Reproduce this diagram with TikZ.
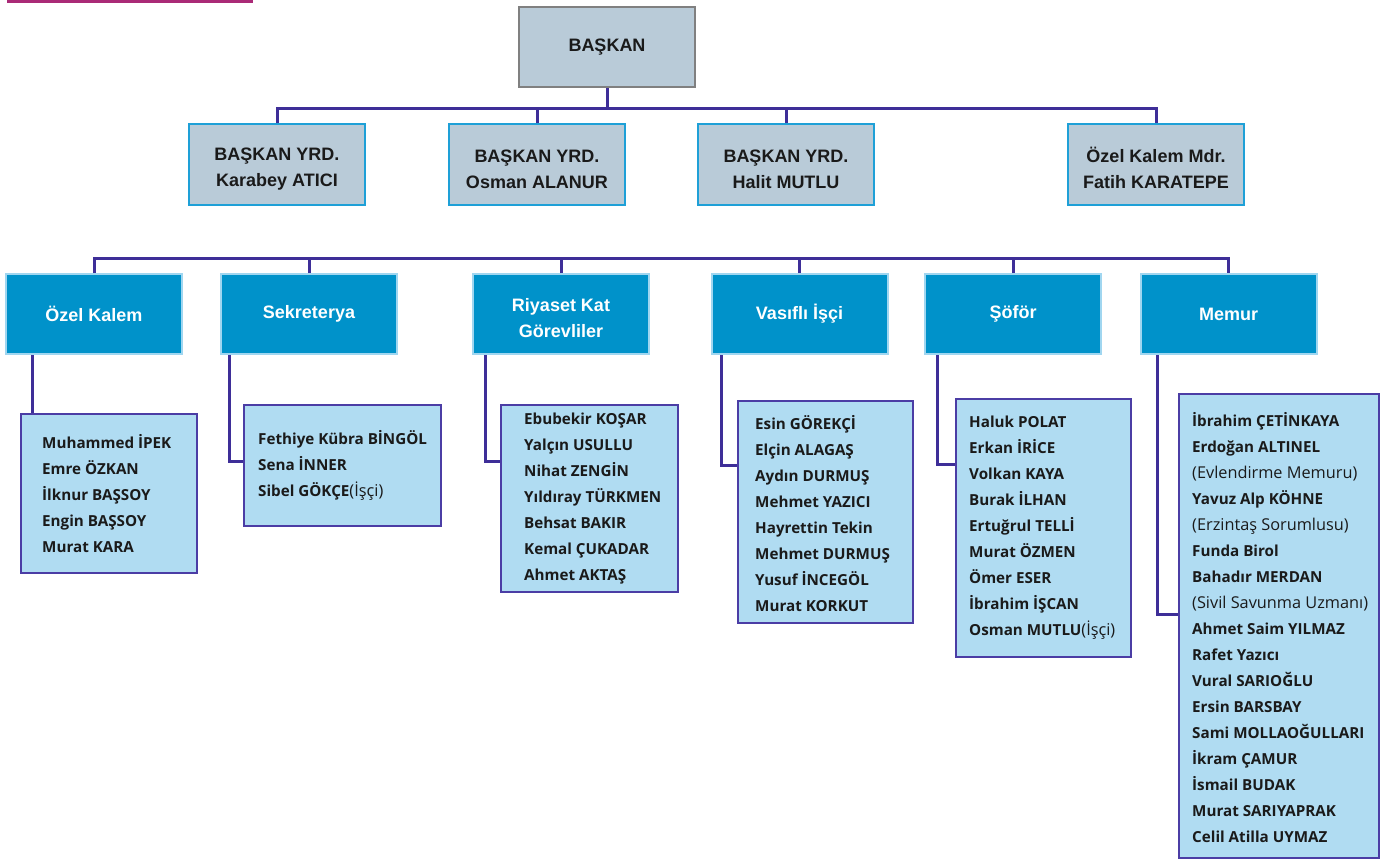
\documentclass[tikz,border=0pt]{standalone}
\usepackage{fontspec}
\usepackage{xcolor}
\usepackage{tikz}
\usetikzlibrary{positioning}
\setmainfont{Liberation Sans}
\newfontfamily\namefont{Open Sans}
\newcommand\aciklama[1]{{\mdseries\fontsize{16.3}{26}\selectfont #1}}
\definecolor{baskanfill}{RGB}{185,203,216}
\definecolor{baskanborder}{RGB}{128,128,128}
\definecolor{yrdborder}{RGB}{30,160,215}
\definecolor{birimfill}{RGB}{0,146,202}
\definecolor{birimborder}{RGB}{160,214,240}
\definecolor{listefill}{RGB}{176,220,242}
\definecolor{listeborder}{RGB}{75,61,165}
\definecolor{hatcolor}{RGB}{62,46,152}
\definecolor{bandcolor}{RGB}{170,42,119}
\definecolor{yazi}{RGB}{26,26,26}

\begin{document}
\begin{tikzpicture}[x=1pt, y=-1pt]
% Define styles
\tikzstyle{baskan} = [rectangle, minimum width=176pt, minimum height=80pt, align=center, draw=baskanborder, line width=2pt, fill=baskanfill, text=yazi, font=\fontsize{18}{26}\selectfont\bfseries]
\tikzstyle{yardimci} = [rectangle, minimum width=176pt, minimum height=81pt, align=center, text height=48pt, draw=yrdborder, line width=2pt, fill=baskanfill, text=yazi, font=\fontsize{18}{26}\selectfont\bfseries]
\tikzstyle{birim} = [rectangle, minimum width=176pt, minimum height=80pt, align=center, draw=birimborder, line width=2pt, fill=birimfill, text=white, font=\fontsize{18}{26}\selectfont\bfseries]
\tikzstyle{liste} = [rectangle, anchor=north west, draw=listeborder, line width=2pt, fill=listefill]
\tikzstyle{isimler} = [anchor=west, align=left, inner sep=0pt, text=yazi, font=\namefont\fontsize{15.2}{26}\selectfont\bfseries]
\tikzstyle{hat} = [draw=hatcolor, line width=3pt]

\useasboundingbox (0,0) rectangle (1386,859);
\fill [bandcolor] (7,0) rectangle (253,3);

% Place nodes
\node [baskan] (baskan) at (607,47) {BAŞKAN};
\node [yardimci] (yrd1) at (277,164.5) {BAŞKAN YRD.\\Karabey ATICI};
\node [yardimci] (yrd2) at (537,164.5) {BAŞKAN YRD.\\Osman ALANUR};
\node [yardimci] (yrd3) at (786,164.5) {BAŞKAN YRD.\\Halit MUTLU};
\node [yardimci] (yrd4) at (1156,164.5) {Özel Kalem Mdr.\\Fatih KARATEPE};

\node [birim] (ozel) at (94,314) {Özel Kalem};
\node [birim] (sekr) at (309,314) {Sekreterya};
\node [birim, text height=48pt] (riyaset) at (561,314) {Riyaset Kat\\Görevliler};
\node [birim] (vasifli) at (799.5,314) {Vasıflı İşçi};
\node [birim] (sofor) at (1013,314) {Şöför};
\node [birim] (memur) at (1228.5,314) {Memur};

\node [liste, minimum width=176pt, minimum height=159pt] (ozelL) at (20,413) {};
\node [liste, minimum width=197pt, minimum height=121pt] (sekrL) at (243,404) {};
\node [liste, minimum width=177pt, minimum height=187pt] (riyasetL) at (500,404) {};
\node [liste, minimum width=175pt, minimum height=222pt] (vasifliL) at (737,400) {};
\node [liste, minimum width=175pt, minimum height=258pt] (soforL) at (955,398) {};
\node [liste, minimum width=200pt, minimum height=464pt] (memurL) at (1178,393) {};

\node [isimler] (ozelT) at ([xshift=22pt]ozelL.west) {Muhammed İPEK\\Emre ÖZKAN\\İlknur BAŞSOY\\Engin BAŞSOY\\Murat KARA};
\node [isimler] (sekrT) at ([xshift=15pt]sekrL.west) {Fethiye Kübra BİNGÖL\\Sena İNNER\\Sibel GÖKÇE\aciklama{(İşçi)}};
\node [isimler] (riyasetT) at ([xshift=24pt]riyasetL.west) {Ebubekir KOŞAR\\Yalçın USULLU\\Nihat ZENGİN\\Yıldıray TÜRKMEN\\Behsat BAKIR\\Kemal ÇUKADAR\\Ahmet AKTAŞ};
\node [isimler] (vasifliT) at ([xshift=18pt, yshift=-2pt]vasifliL.west) {Esin GÖREKÇİ\\Elçin ALAGAŞ\\Aydın DURMUŞ\\Mehmet YAZICI\\Hayrettin Tekin\\Mehmet DURMUŞ\\Yusuf İNCEGÖL\\Murat KORKUT};
\node [isimler] (soforT) at ([xshift=14pt]soforL.west) {Haluk POLAT\\Erkan İRİCE\\Volkan KAYA\\Burak İLHAN\\Ertuğrul TELLİ\\Murat ÖZMEN\\Ömer ESER\\İbrahim İŞCAN\\Osman MUTLU\aciklama{(İşçi)}};
\node [isimler] (memurT) at ([xshift=14pt, yshift=-2pt]memurL.west) {İbrahim ÇETİNKAYA\\Erdoğan ALTINEL\\\aciklama{(Evlendirme Memuru)}\\Yavuz Alp KÖHNE\\\aciklama{(Erzintaş Sorumlusu)}\\Funda Birol\\Bahadır MERDAN\\\aciklama{(Sivil Savunma Uzmanı)}\\Ahmet Saim YILMAZ\\Rafet Yazıcı\\Vural SARIOĞLU\\Ersin BARSBAY\\Sami MOLLAOĞULLARI\\İkram ÇAMUR\\İsmail BUDAK\\Murat SARIYAPRAK\\Celil Atilla UYMAZ};

% Bus coordinates
\coordinate (ustHat) at (0,108);
\coordinate (altHat) at (0,258);
\coordinate (ozelC) at ([xshift=27pt]ozel.south west);
\coordinate (sekrC) at ([xshift=9pt]sekr.south west);
\coordinate (riyasetC) at ([xshift=13pt]riyaset.south west);
\coordinate (vasifliC) at ([xshift=11pt]vasifli.south west);
\coordinate (soforC) at ([xshift=13pt]sofor.south west);
\coordinate (memurC) at ([xshift=18pt]memur.south west);

% Draw lines
\draw [hat] (baskan.south) -- (baskan.south |- ustHat);
\draw [hat] (yrd1.north) -- (yrd1.north |- ustHat) -| (yrd4.north);
\draw [hat] (yrd2.north) -- (yrd2.north |- ustHat);
\draw [hat] (yrd3.north) -- (yrd3.north |- ustHat);

\draw [hat] (ozel.north) -- (ozel.north |- altHat) -| (memur.north);
\draw [hat] (sekr.north) -- (sekr.north |- altHat);
\draw [hat] (riyaset.north) -- (riyaset.north |- altHat);
\draw [hat] (vasifli.north) -- (vasifli.north |- altHat);
\draw [hat] (sofor.north) -- (sofor.north |- altHat);

\draw [hat] (ozelC) -- (ozelC |- ozelL.north);
\draw [hat] (sekrC) |- ([yshift=-57pt]sekrL.north west);
\draw [hat] (riyasetC) |- ([yshift=-57pt]riyasetL.north west);
\draw [hat] (vasifliC) |- ([yshift=-65pt]vasifliL.north west);
\draw [hat] (soforC) |- ([yshift=-66pt]soforL.north west);
\draw [hat] (memurC) |- ([yshift=-221pt]memurL.north west);
\end{tikzpicture}
\end{document}
